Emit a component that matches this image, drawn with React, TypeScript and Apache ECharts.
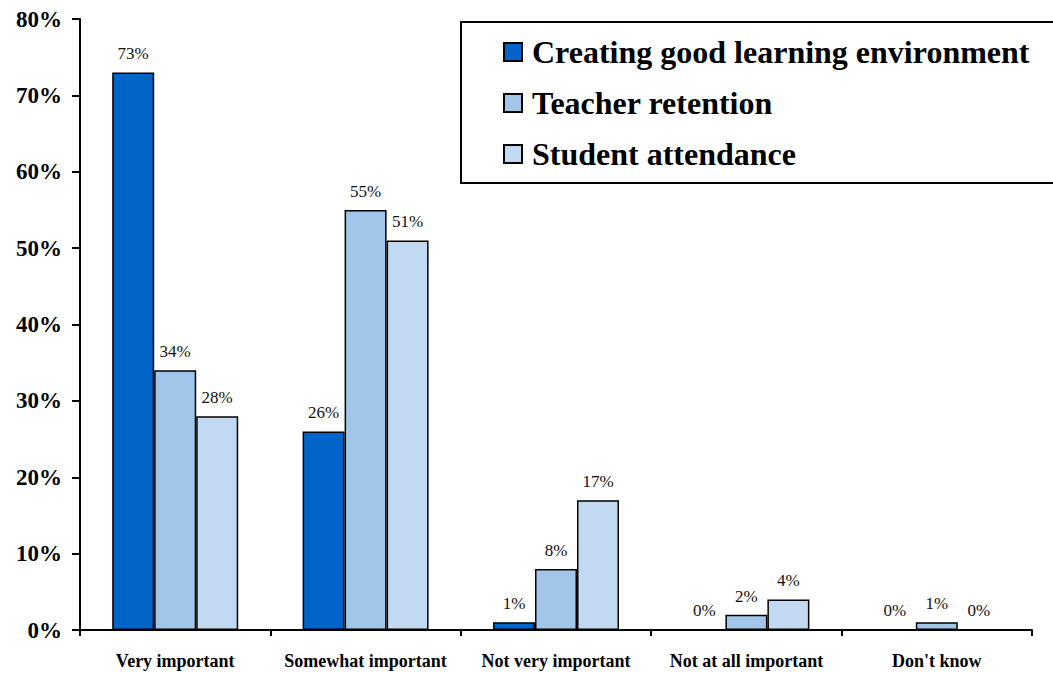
import React, { useEffect, useRef } from "react";
import * as echarts from "echarts";

const categories = ["Very important", "Somewhat important", "Not very important", "Not at all important", "Don't know"];
const seriesNames = ["Creating good learning environment", "Teacher retention", "Student attendance"];
const learningEnv = [73, 26, 1, 0, 0];
const teacherRetention = [34, 55, 8, 2, 1];
const studentAttendance = [28, 51, 17, 4, 0];
const colors = ["#0064C8", "#A2C6E9", "#C2DAF1"];
const yTicks = [0, 10, 20, 30, 40, 50, 60, 70, 80];

const FONT = "Liberation Serif";

export default function App() {
  const ref = useRef<HTMLDivElement>(null);
  useEffect(() => {
    const chart = echarts.init(ref.current!, null, { renderer: "svg" });
    const values = [learningEnv, teacherRetention, studentAttendance];
    chart.setOption({
      animation: false,
      backgroundColor: "#ffffff",
      textStyle: { fontFamily: FONT },
      grid: { left: 80, right: 21, top: 19, bottom: 43, containLabel: false },
      graphic: [
        {
          type: "rect",
          z: 0,
          shape: { x: 461, y: 22, width: 700, height: 161 },
          style: { fill: "#ffffff", stroke: "#000000", lineWidth: 2 },
        },
      ],
      legend: {
        show: true,
        orient: "vertical",
        left: 498,
        top: 31,
        z: 10,
        itemWidth: 18,
        itemHeight: 18,
        itemGap: 19,
        icon: "rect",
        textStyle: {
          fontFamily: FONT,
          fontWeight: "bold",
          fontSize: 32,
          lineHeight: 32,
          color: "#000000",
          padding: [0, 0, 0, 5],
        },
        data: seriesNames,
      },
      xAxis: {
        type: "category",
        data: categories,
        axisLine: { lineStyle: { color: "#000000", width: 2 } },
        axisTick: { show: true, length: 6, lineStyle: { color: "#000000", width: 2 } },
        axisLabel: {
          fontFamily: FONT,
          fontWeight: "bold",
          fontSize: 18,
          color: "#000000",
          margin: 22,
          interval: 0,
        },
      },
      yAxis: {
        type: "value",
        min: 0,
        max: 80,
        interval: 10,
        splitLine: { show: false },
        axisLine: { show: true, lineStyle: { color: "#000000", width: 2 } },
        axisTick: { show: true, length: 8, lineStyle: { color: "#000000", width: 2 } },
        axisLabel: {
          fontFamily: FONT,
          fontWeight: "bold",
          fontSize: 23,
          color: "#000000",
          margin: 18,
          formatter: (v: number) => (yTicks.includes(v) ? v + "%" : ""),
        },
      },
      series: seriesNames.map((name, i) => ({
        name,
        type: "bar",
        data: values[i],
        barWidth: 42,
        barGap: "0%",
        itemStyle: { color: colors[i], borderColor: "#000000", borderWidth: 1.5 },
        label: {
          show: true,
          position: "top",
          distance: 10,
          fontFamily: FONT,
          fontSize: 17,
          color: "#111111",
          formatter: (p: any) => p.value + "%",
        },
      })),
    });
    return () => chart.dispose();
  }, []);
  return (
    <div
      ref={ref}
      style={{ position: "fixed", left: 0, top: 0, width: 1053, height: 673 }}
    />
  );
}
